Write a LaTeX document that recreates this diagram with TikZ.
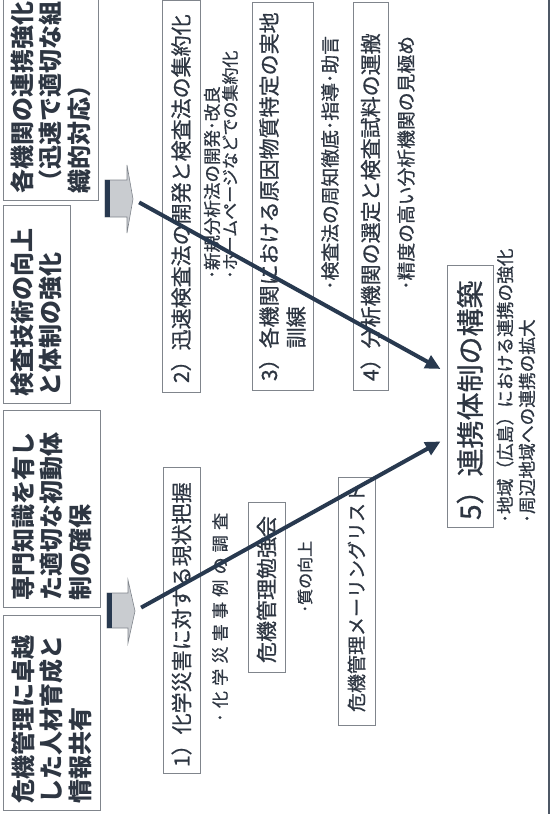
\documentclass[tikz,border=0pt]{standalone}
\usepackage{fontspec}
\setmainfont{Noto Sans CJK JP}
\newfontfamily\jpmed{Noto Sans CJK JP}[FakeBold=0.8]
\usetikzlibrary{arrows.meta,calc}
\definecolor{txt}{HTML}{2E3642}
\definecolor{boxline}{HTML}{80858C}
\definecolor{navy}{HTML}{28394F}
\definecolor{framec}{HTML}{4E5866}
\definecolor{blockfill}{HTML}{C9CCD0}
\begin{document}
\begin{tikzpicture}[x=1pt,y=-1pt,
  every node/.style={text=txt},
  box/.style={draw=boxline, line width=0.8pt, rotate=90, align=left, inner xsep=7pt, inner ysep=0pt},
  headbox/.style={box, font=\bfseries\fontsize{24}{28.5}\selectfont},
  numbox/.style={box, font=\jpmed\fontsize{21}{27}\selectfont},
  subtext/.style={rotate=90, anchor=west, inner sep=0pt},
  conn/.style={draw=navy, line width=4pt, -{Triangle[length=15pt,width=14pt]}, shorten <=7pt, shorten >=7pt},
  blockarrow/.style={fill=blockfill, draw=boxline, line width=0.6pt}
]
\useasboundingbox (0,0) rectangle (558,814);
\clip (0,0) rectangle (558,814);

% left column
\node[headbox, minimum width=220pt, minimum height=95pt, text width=206pt] (hd) at (50.5,90)
  {各機関の連携強化\\（迅速で適切な組\\織的対応）};
\node[headbox, minimum width=198pt, minimum height=67pt, text width=184pt] (hc) at (36.5,304)
  {検査技術の向上\\と体制の強化};
\node[headbox, minimum width=197pt, minimum height=97pt, text width=183pt] (hb) at (51.5,508.5)
  {専門知識を有し\\た適切な初動体\\制の確保};
\node[headbox, minimum width=195pt, minimum height=97pt, text width=181pt] (ha) at (51.5,712.5)
  {危機管理に卓越\\した人材育成と\\情報共有};

% block arrows
\path[blockarrow] (105,180) -- (127,180) -- (127,165) -- (133,199) -- (127,233) -- (127,217) -- (105,217) -- cycle;
\fill[navy] (105,180) rectangle (110,217);
\coordinate (ba2) at (133,199);
\path[blockarrow] (107,593) -- (128,593) -- (128,580) -- (135,611) -- (128,643) -- (128,628) -- (107,628) -- cycle;
\fill[navy] (107,593) rectangle (112,628);
\coordinate (ba1) at (135,611);

% numbered boxes
\node[numbox, minimum width=388pt, minimum height=38pt, text width=374pt, inner xsep=9pt] (b2) at (181,196)
  {2）迅速検査法の開発と検査法の集約化};
\node[numbox, minimum width=388pt, minimum height=61pt, text width=370pt, inner xsep=9pt] (b3) at (282.5,196)
  {3）各機関における原因物質特定の実地\\\phantom{3）}訓練};
\node[numbox, minimum width=388pt, minimum height=35pt, text width=370pt, inner xsep=9pt] (b4) at (370.5,196)
  {4）分析機関の選定と検査試料の運搬};
\node[numbox, minimum width=306pt, minimum height=37pt, text width=294pt, inner xsep=6pt] (b1) at (181.5,620)
  {1）化学災害に対する現状把握};
\node[numbox, minimum width=170pt, minimum height=37pt, text width=152pt, inner xsep=9pt] (bst) at (266.5,587)
  {危機管理勉強会};
\node[box, font=\jpmed\fontsize{19}{24}\selectfont, minimum width=248pt, minimum height=37pt, text width=222pt, inner xsep=13pt] (bml) at (356.5,601)
  {危機管理メーリングリスト};
\node[box, font=\jpmed\fontsize{28}{34}\selectfont, minimum width=262pt, minimum height=46pt, text width=248pt, inner xsep=7pt] (b5) at (470,396)
  {5）連携体制の構築};

% sub texts
\node[subtext, font=\jpmed\fontsize{17.5}{20}\selectfont] (s2a) at (212,279) {･新規分析法の開発･改良};
\node[subtext, font=\jpmed\fontsize{17}{20}\selectfont] (s2b) at (230,279) {･ホームページなどでの集約化};
\node[subtext, font=\jpmed\fontsize{18.8}{20}\selectfont] (s3) at (330,290) {･検査法の周知徹底･指導･助言};
\node[subtext, font=\jpmed\fontsize{18.8}{20}\selectfont] (s4) at (406,290) {･精度の高い分析機関の見極め};
\node[subtext, font=\jpmed\fontsize{17}{20}\selectfont\addfontfeatures{LetterSpace=31}] (s1a) at (220,722) {･化学災害事例の調査};
\node[subtext, font=\jpmed\fontsize{16}{20}\selectfont] (s1b) at (305,613) {･質の向上};
\node[subtext, font=\jpmed\fontsize{17.7}{20}\selectfont] (s5a) at (505,523) {･地域（広島）における連携の強化};
\node[subtext, font=\jpmed\fontsize{17.7}{20}\selectfont] (s5b) at (527,523) {･周辺地域への連携の拡大};

% connectors
\draw[conn] (ba1) -- ($(b5.north west)!0.34!(b5.north east)$);
\draw[conn] (ba2) -- ($(b5.north west)!0.59!(b5.north east)$);

% outer frame edge
\draw[framec, line width=2.5pt] (549,-5) -- (549,819);
\end{tikzpicture}
\end{document}
